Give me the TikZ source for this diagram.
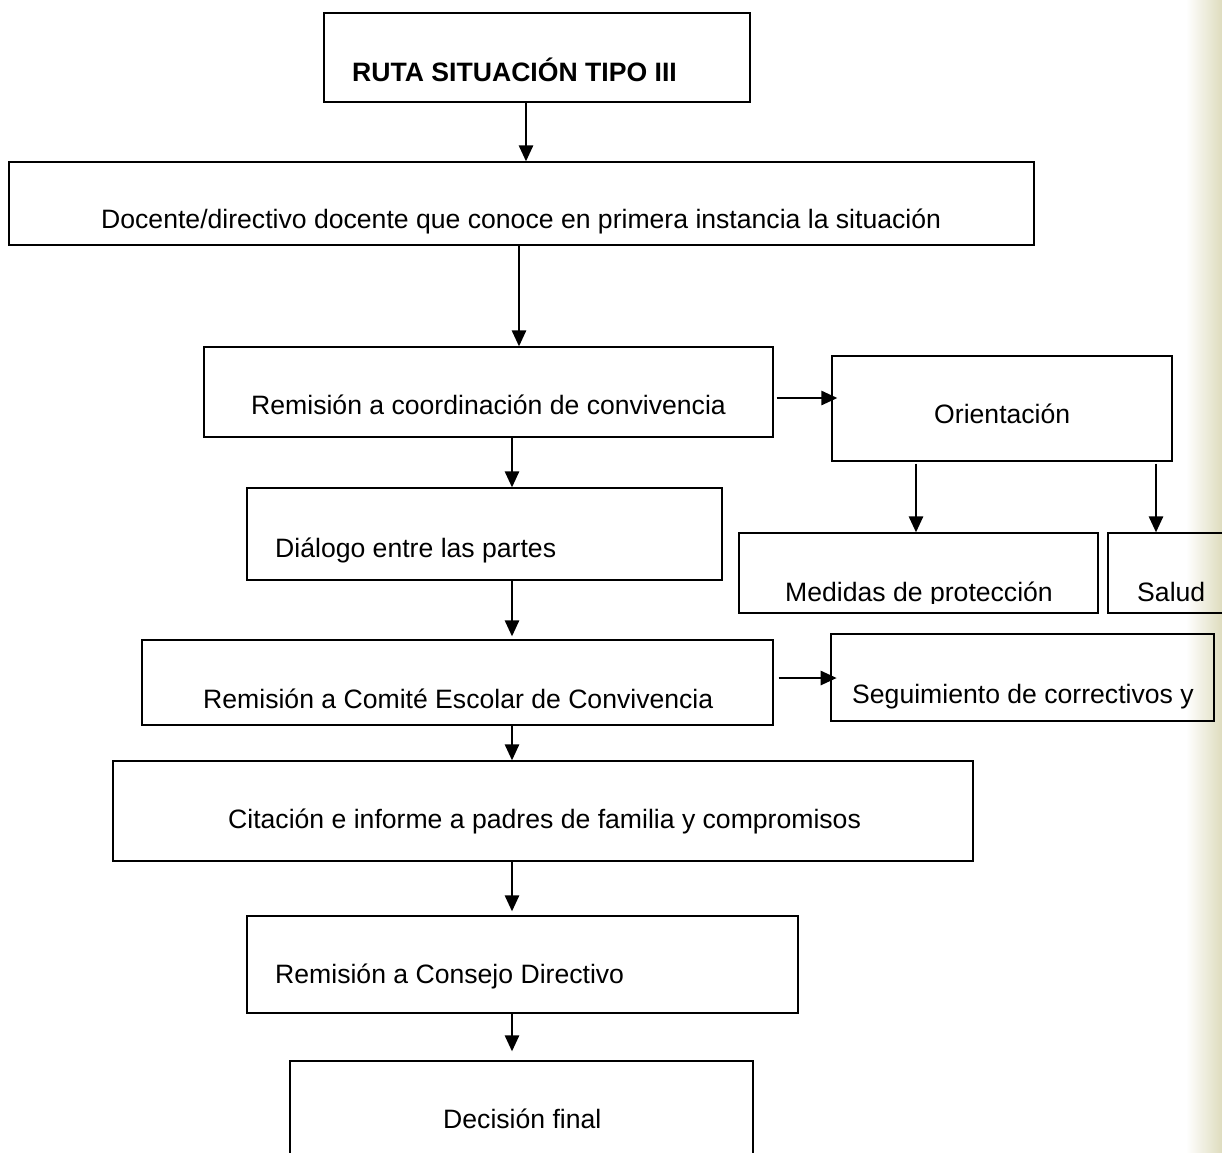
\documentclass[tikz,border=0pt]{standalone}
\usepackage{fontspec}
\setmainfont{Liberation Sans}
\usetikzlibrary{arrows.meta}
\definecolor{stripcol}{RGB}{222,220,190}
\tikzset{
  box/.style={draw=black, line width=1.2pt, inner sep=0pt, rectangle},
  thickbox/.style={box, line width=2.6pt},
  lbl/.style={inner sep=0pt, anchor=base west, font=\fontsize{26.6}{30}\selectfont},
  arr/.style={line width=2.6pt, -{Triangle[length=16pt,width=14pt]}}
}
\begin{document}
\begin{tikzpicture}[x=1pt,y=-1pt]
\useasboundingbox (0,0) rectangle (1222,1152);
\clip (0,0) rectangle (1222,1152);
\shade[left color=white, right color=stripcol] (1186,0) rectangle (1222,1152);

% boxes
\node[box, minimum width=426pt, minimum height=89pt] (title) at (537,57.5) {};
\node[box, minimum width=1025pt, minimum height=83pt] (doc) at (521.5,203.5) {};
\node[box, minimum width=569pt, minimum height=90pt] (coord) at (488.5,392) {};
\node[box, minimum width=340pt, minimum height=105pt] (orient) at (1002,408.5) {};
\node[box, minimum width=475pt, minimum height=92pt] (dialog) at (484.5,534) {};
\node[box, minimum width=359pt, minimum height=80pt] (medidas) at (918.5,573) {};
\node[box, minimum width=120pt, minimum height=80pt] (salud) at (1168,573) {};
\node[box, minimum width=631pt, minimum height=85pt] (comite) at (457.5,682.5) {};
\node[thickbox, minimum width=383pt, minimum height=87pt] (segui) at (1022.5,677.5) {};
\node[box, minimum width=860pt, minimum height=100pt] (cita) at (543,811) {};
\node[box, minimum width=551pt, minimum height=97pt] (consejo) at (522.5,964.5) {};
\node[box, minimum width=463pt, minimum height=99pt] (decision) at (521.5,1110.5) {};

% texts
\node[lbl, font=\fontsize{26.6}{30}\selectfont\bfseries] (ttitle) at (352,81) {RUTA SITUACIÓN TIPO III};
\node[lbl] (tdoc) at (101,228) {Docente/directivo docente que conoce en primera instancia la situación};
\node[lbl] (tcoord) at (251,414) {Remisión a coordinación de convivencia};
\node[lbl] (torient) at (934,423) {Orientación};
\node[lbl] (tdialog) at (275,557) {Diálogo entre las partes};
\begin{scope}
\clip (739,533) rectangle (1222,603);
\node[lbl] (tmedidas) at (785,601) {Medidas de protección};
\node[lbl] (tsalud) at (1137,601) {Salud};
\end{scope}
\node[lbl] (tcomite) at (203,708) {Remisión a Comité Escolar de Convivencia};
\node[lbl] (tsegui) at (852,703) {Seguimiento de correctivos y};
\node[lbl] (tcita) at (228,828) {Citación e informe a padres de familia y compromisos};
\node[lbl] (tconsejo) at (275,983) {Remisión a Consejo Directivo};
\node[lbl] (tdecision) at (443,1128) {Decisión final};

% connectors
\coordinate (a1) at ([xshift=-11pt]title.south);
\draw[arr] (a1) -- (a1 |- doc.north);
\coordinate (a2) at ([xshift=-2.5pt]doc.south);
\draw[arr] (a2) -- (a2 |- coord.north);
\coordinate (a3) at ([xshift=23.5pt]coord.south);
\draw[arr] (a3) -- (a3 |- dialog.north);
\coordinate (a4) at ([xshift=27.5pt]dialog.south);
\draw[arr] (a4) -- ([yshift=3pt]a4 |- comite.north);
\coordinate (a5) at ([xshift=54.5pt]comite.south);
\draw[arr] (a5) -- (a5 |- cita.north);
\coordinate (a6) at ([xshift=-31pt]cita.south);
\draw[arr] (a6) -- ([yshift=4pt]a6 |- consejo.north);
\coordinate (a7) at ([xshift=-10.5pt]consejo.south);
\draw[arr] (a7) -- ([yshift=9pt]a7 |- decision.north);
\coordinate (a8) at ([xshift=3pt,yshift=-6pt]coord.east);
\draw[arr] (a8) -- ([xshift=6pt]orient.west |- a8);
\coordinate (a9) at ([xshift=-86pt,yshift=-2pt]orient.south);
\draw[arr] (a9) -- (a9 |- medidas.north);
\coordinate (a10) at ([xshift=154pt,yshift=-2pt]orient.south);
\draw[arr] (a10) -- (a10 |- salud.north);
\coordinate (a11) at ([xshift=5pt,yshift=4.5pt]comite.east);
\draw[arr] (a11) -- ([xshift=7pt]segui.west |- a11);
\end{tikzpicture}
\end{document}
